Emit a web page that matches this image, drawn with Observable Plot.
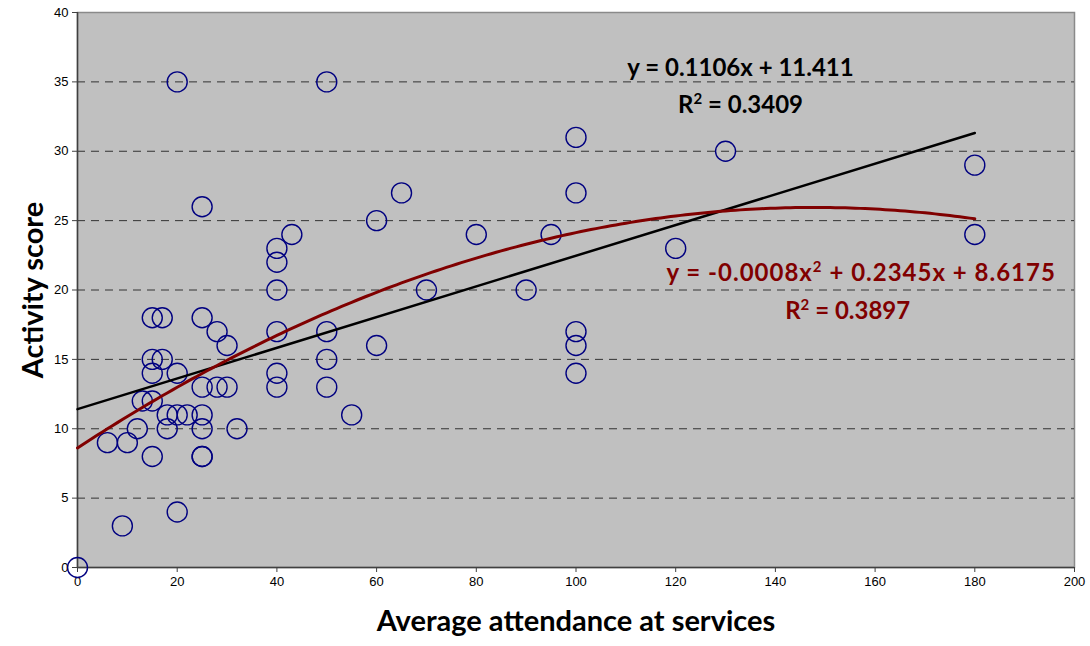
<!DOCTYPE html>
<html>
<head>
<meta charset="utf-8">
<script src="https://cdn.jsdelivr.net/npm/d3@7"></script>
<script src="https://cdn.jsdelivr.net/npm/@observablehq/plot@0.6"></script>
<style>
  html, body { margin: 0; padding: 0; background: #fff; }
  #chart { width: 1090px; height: 646px; }
</style>
</head>
<body>
<div id="chart"></div>
<script>
// Data
const attendance = [0, 6, 9, 10, 12, 13, 15, 15, 15, 15, 15, 17, 17, 18, 18, 20, 20, 20, 20, 22,
  25, 25, 25, 25, 25, 25, 25, 28, 28, 30, 30, 32, 40, 40, 40, 40, 40, 40, 43, 50, 50, 50, 50, 55,
  60, 60, 65, 70, 80, 90, 95, 100, 100, 100, 100, 100, 120, 130, 180, 180];
const activity = [0, 9, 3, 9, 10, 12, 18, 15, 14, 12, 8, 18, 15, 11, 10, 35, 14, 11, 4, 11,
  26, 18, 13, 11, 10, 8, 8, 17, 13, 16, 13, 10, 23, 22, 20, 17, 14, 13, 24, 35, 17, 15, 13, 11,
  25, 16, 27, 20, 24, 20, 24, 31, 27, 17, 16, 14, 23, 30, 29, 24];
const xTicks = [0, 20, 40, 60, 80, 100, 120, 140, 160, 180, 200];
const yTicks = [0, 5, 10, 15, 20, 25, 30, 35, 40];
const gridValues = [5, 10, 15, 20, 25, 30, 35];
const linearLabel = ["y = 0.1106x + 11.411", "R² = 0.3409"];
const polyLabel = ["y = -0.0008x² + 0.2345x + 8.6175", "R² = 0.3897"];

const points = attendance.map((x, i) => ({x, y: activity[i]}));

// Least-squares fits computed from the data (as the spreadsheet trendlines were)
function polyFit(xs, ys, deg) {
  const n = deg + 1;
  const A = Array.from({length: n}, () => new Array(n + 1).fill(0));
  for (let k = 0; k < xs.length; k++) {
    for (let i = 0; i < n; i++) {
      for (let j = 0; j < n; j++) A[i][j] += Math.pow(xs[k], i + j);
      A[i][n] += ys[k] * Math.pow(xs[k], i);
    }
  }
  for (let c = 0; c < n; c++) {
    let p = c;
    for (let r = c + 1; r < n; r++) if (Math.abs(A[r][c]) > Math.abs(A[p][c])) p = r;
    [A[c], A[p]] = [A[p], A[c]];
    for (let r = 0; r < n; r++) {
      if (r === c) continue;
      const f = A[r][c] / A[c][c];
      for (let k = c; k <= n; k++) A[r][k] -= f * A[c][k];
    }
  }
  return A.map((row, i) => row[n] / row[i]);
}
const lin = polyFit(attendance, activity, 1);
const quad = polyFit(attendance, activity, 2);
const xMax = d3.max(attendance);
const xs = d3.range(0, xMax + 0.5, 1);
const linLine = [0, xMax].map(x => ({x, y: lin[0] + lin[1] * x}));
const quadLine = xs.map(x => ({x, y: quad[0] + quad[1] * x + quad[2] * x * x}));

// Annotation placement (data coordinates)
const annot = [
  {x: 133, y: 36.0, text: linearLabel[0], color: "#000000"},
  {x: 133, y: 33.3, text: linearLabel[1], color: "#000000"},
  {x: 157.2, y: 21.2, text: polyLabel[0], color: "#800000"},
  {x: 154.5, y: 18.45, text: polyLabel[1], color: "#800000"}
];

const boldFont = "Lato, 'Open Sans', sans-serif";

const chart = Plot.plot({
  width: 1090,
  height: 646,
  marginLeft: 77,
  marginRight: 16,
  marginTop: 12,
  marginBottom: 79,
  style: {fontFamily: "'Liberation Sans', Arial, sans-serif", fontSize: "13px", background: "#fff", overflow: "visible"},
  x: {domain: [0, 200]},
  y: {domain: [0, 40]},
  marks: [
    Plot.frame({fill: "#C0C0C0", stroke: "#8a8a8a", strokeWidth: 1.5}),
    Plot.gridY(gridValues, {stroke: "#1a1a1a", strokeOpacity: 0.85, strokeDasharray: "8,6", strokeWidth: 1}),
    Plot.ruleX([0], {stroke: "#404040", strokeWidth: 1.5}),
    Plot.ruleY([0], {stroke: "#404040", strokeWidth: 1.5}),
    Plot.axisX({ticks: xTicks, tickSize: 5, tickPadding: 4, stroke: "#404040", label: null, fill: "#000", fontSize: 13}),
    Plot.axisY({ticks: yTicks, tickSize: 5, tickPadding: 4, stroke: "#404040", label: null, fill: "#000", fontSize: 13}),
    Plot.dot(points, {x: "x", y: "y", r: 10, stroke: "#000080", strokeWidth: 1.4, fill: "none"}),
    Plot.line(linLine, {x: "x", y: "y", stroke: "#000", strokeWidth: 2.5}),
    Plot.line(quadLine, {x: "x", y: "y", stroke: "#800000", strokeWidth: 3, curve: "linear"}),
    Plot.text(annot, {x: "x", y: "y", text: "text", fill: "color", fontSize: 24, fontWeight: "bold", fontFamily: boldFont}),
    Plot.text(["Average attendance at services"], {frameAnchor: "bottom", dy: 63, fontSize: 29, fontWeight: "bold", fontFamily: boldFont, fill: "#000"}),
    Plot.text(["Activity score"], {frameAnchor: "left", textAnchor: "middle", dx: -44, rotate: -90, fontSize: 29, fontWeight: "bold", fontFamily: boldFont, fill: "#000"})
  ]
});
document.getElementById("chart").appendChild(chart);

// Render "²" as a raised superscript, like the reference
d3.select(chart).selectAll("text").each(function () {
  const el = this;
  const target = el.querySelector("tspan") ? Array.from(el.querySelectorAll("tspan")) : [el];
  target.forEach(node => {
    const t = node.textContent;
    if (!t.includes("²")) return;
    if (t.includes("0.0008")) node.setAttribute("letter-spacing", "1");
    const parts = t.split("²");
    node.textContent = "";
    parts.forEach((p, i) => {
      if (i > 0) {
        const sup = document.createElementNS("http://www.w3.org/2000/svg", "tspan");
        sup.setAttribute("dy", "-9");
        sup.setAttribute("font-size", "15");
        sup.textContent = "2";
        node.appendChild(sup);
      }
      const s = document.createElementNS("http://www.w3.org/2000/svg", "tspan");
      if (i > 0) s.setAttribute("dy", "9");
      s.textContent = p;
      node.appendChild(s);
    });
  });
});
</script>
</body>
</html>
